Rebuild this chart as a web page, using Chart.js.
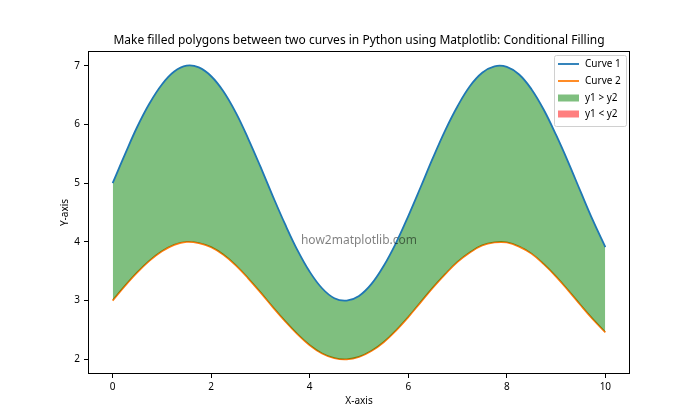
<!DOCTYPE html>
<html><head><meta charset="utf-8">
<script src="https://cdn.jsdelivr.net/npm/chart.js@4.4.1/dist/chart.umd.min.js"></script>
<style>html,body{margin:0;padding:0;background:#fff}</style>
</head><body>
<canvas id="c" width="700" height="420"></canvas>
<script>
const titleText = "Make filled polygons between two curves in Python using Matplotlib: Conditional Filling";
const xLabel = "X-axis";
const yLabel = "Y-axis";
const watermark = "how2matplotlib.com";
const xValues = [0,0.25,0.5,0.75,1,1.25,1.5,1.75,2,2.25,2.5,2.75,3,3.25,3.5,3.75,4,4.25,4.5,4.75,5,5.25,5.5,5.75,6,6.25,6.5,6.75,7,7.25,7.5,7.75,8,8.25,8.5,8.75,9,9.25,9.5,9.75,10];
const curve1 = [5.00,5.49,5.96,6.36,6.68,6.90,7.00,6.97,6.82,6.56,6.20,5.76,5.28,4.78,4.30,3.86,3.49,3.21,3.04,3.00,3.08,3.28,3.59,3.98,4.44,4.93,5.43,5.90,6.31,6.65,6.88,6.99,6.98,6.85,6.60,6.25,5.82,5.35,4.85,4.36,3.91];
const curve2 = [3.00,3.25,3.48,3.68,3.84,3.95,4.00,3.98,3.91,3.78,3.60,3.38,3.14,2.89,2.65,2.43,2.24,2.10,2.02,2.00,2.04,2.14,2.29,2.49,2.72,2.97,3.22,3.45,3.66,3.82,3.94,3.99,3.99,3.92,3.80,3.62,3.41,3.17,2.92,2.68,2.46];
const xTicks = [0,2,4,6,8,10];
const yTicks = [2,3,4,5,6,7];
const seriesNames = ["Curve 1","Curve 2"];
const fillNames = ["y1 > y2","y1 < y2"];

const FONT = "'Noto Sans', 'DejaVu Sans', sans-serif";
const C1 = '#1f77b4', C2 = '#ff7f0e';
const GREEN = 'rgba(0,128,0,0.5)', RED = 'rgba(255,0,0,0.5)';

const pts = (ys) => xValues.map((x,i)=>({x:x, y:ys[i]}));

const overlay = {
  id: 'overlay',
  afterDraw(chart) {
    const ctx = chart.ctx, a = chart.chartArea;
    ctx.save();
    ctx.strokeStyle = '#000'; ctx.lineWidth = 1;
    ctx.strokeRect(Math.round(a.left)+0.5, Math.round(a.top)+0.5, Math.round(a.right-a.left)-1, Math.round(a.bottom-a.top)-1);
    ctx.fillStyle = '#000';
    ctx.textAlign = 'center'; ctx.textBaseline = 'middle';
    ctx.font = '12px ' + FONT;
    ctx.fillText(titleText, (a.left+a.right)/2, 41);
    ctx.font = '10px ' + FONT;
    ctx.fillText(xLabel, (a.left+a.right)/2, 401);
    ctx.save();
    ctx.translate(65, (a.top+a.bottom)/2);
    ctx.rotate(-Math.PI/2);
    ctx.fillText(yLabel, 0, 0);
    ctx.restore();
    ctx.font = '12px ' + FONT;
    ctx.fillStyle = 'rgba(0,0,0,0.5)';
    ctx.fillText(watermark, (a.left+a.right)/2, 241);
    const lx = 554, ly = 55, lw = 72, lh = 71;
    ctx.fillStyle = 'rgba(255,255,255,0.8)';
    ctx.strokeStyle = '#d0d0d0'; ctx.lineWidth = 1;
    ctx.beginPath();
    if (ctx.roundRect) ctx.roundRect(lx+0.5, ly+0.5, lw, lh, 2); else ctx.rect(lx+0.5, ly+0.5, lw, lh);
    ctx.fill(); ctx.stroke();
    ctx.font = '10px ' + FONT;
    ctx.textAlign = 'left'; ctx.textBaseline = 'middle';
    const rows = [64, 81, 98, 114];
    const lineCols = [C1, C2];
    seriesNames.forEach((n,i)=>{
      ctx.strokeStyle = lineCols[i]; ctx.lineWidth = 1.8;
      ctx.beginPath(); ctx.moveTo(558, rows[i]); ctx.lineTo(579, rows[i]); ctx.stroke();
      ctx.fillStyle = '#000'; ctx.fillText(n, 585, rows[i]+0.5);
    });
    const fillCols = [GREEN, RED];
    fillNames.forEach((n,j)=>{
      const i = j+2;
      ctx.fillStyle = fillCols[j];
      ctx.fillRect(558, rows[i]-3.5, 21, 7);
      ctx.fillStyle = '#000'; ctx.fillText(n, 585, rows[i]+0.5);
    });
    ctx.restore();
  }
};

new Chart(document.getElementById('c'), {
  type: 'line',
  data: {
    datasets: [
      { label: seriesNames[0], data: pts(curve1), borderColor: C1, borderWidth: 1.8, pointRadius: 0,
        tension: 0.4, fill: { target: 1, above: GREEN, below: RED }, backgroundColor: GREEN },
      { label: seriesNames[1], data: pts(curve2), borderColor: C2, borderWidth: 1.8, pointRadius: 0,
        tension: 0.4, fill: false }
    ]
  },
  options: {
    responsive: false, animation: false, devicePixelRatio: 1,
    layout: { padding: { left: 0, top: 51, right: 70, bottom: 0 } },
    plugins: { legend: { display: false }, title: { display: false }, tooltip: { enabled: false }, filler: { propagate: false } },
    scales: {
      x: { type: 'linear', min: -0.5, max: 10.5,
        afterBuildTicks: ax => { ax.ticks = xTicks.map(v=>({value:v})); },
        afterFit: ax => { ax.height = 46; },
        grid: { display: true, drawOnChartArea: false, drawTicks: true, tickLength: 4, color: '#000', tickColor: '#000' },
        border: { display: false },
        ticks: { color: '#000', font: { size: 10, family: FONT }, padding: 3, maxRotation: 0, autoSkip: false }
      },
      y: { type: 'linear', min: 1.75, max: 7.25,
        afterBuildTicks: ax => { ax.ticks = yTicks.map(v=>({value:v})); },
        afterFit: ax => { ax.width = 88; },
        grid: { display: true, drawOnChartArea: false, drawTicks: true, tickLength: 4, color: '#000', tickColor: '#000' },
        border: { display: false },
        ticks: { color: '#000', font: { size: 10, family: FONT }, padding: 4, autoSkip: false }
      }
    }
  },
  plugins: [overlay]
});
</script>
</body></html>
